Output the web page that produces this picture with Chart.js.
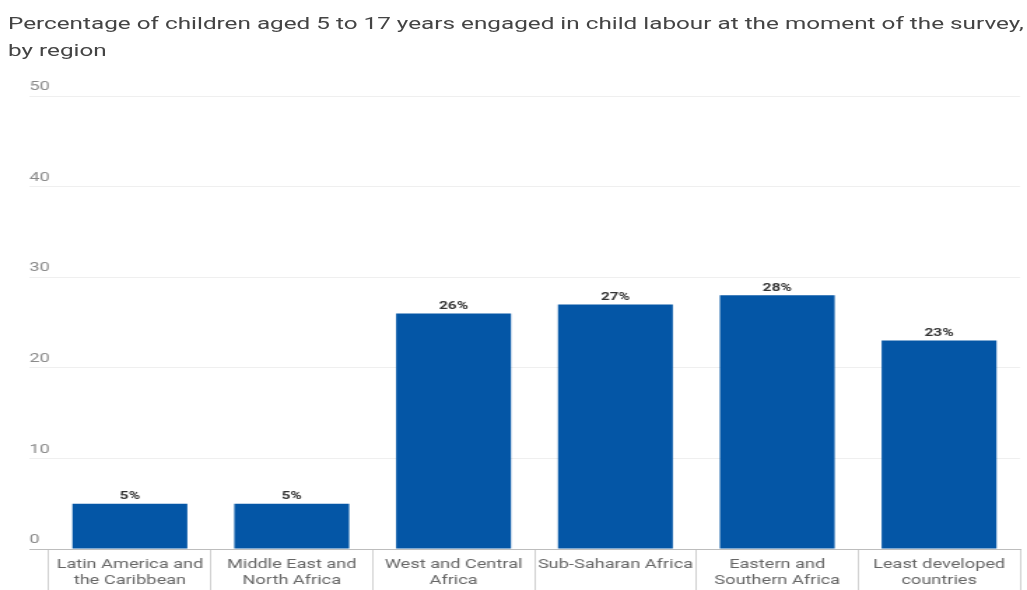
<!DOCTYPE html>
<html>
<head>
<meta charset="utf-8">
<script src="https://cdn.jsdelivr.net/npm/chart.js@4/dist/chart.umd.min.js"></script>
<style>
	html, body { margin: 0; padding: 0; background: #fff; overflow: hidden; }
	.wrap { position: relative; width: 1027px; height: 590px; overflow: hidden; }
	.title {
		position: absolute; left: 8px; top: 10px;
		font: 17px Roboto, sans-serif; line-height: 27px; color: #444;
		white-space: nowrap;
		transform: scaleX(1.428); transform-origin: 0 0;
	}
	/* the source picture is stretched sideways, so the chart is too */
	.stretch {
		position: absolute; left: 0; top: 0; width: 734px; height: 590px;
		transform: scaleX(1.3992); transform-origin: 0 0;
	}
</style>
</head>
<body>
<div class="wrap">
	<div class="stretch"><canvas id="chart" width="734" height="590"></canvas></div>
	<div class="title">Percentage of children aged 5 to 17 years engaged in child labour at the moment of the survey,<br>by region</div>
</div>
<script>
	const regions = [
		['Latin America and', 'the Caribbean'],
		['Middle East and', 'North Africa'],
		['West and Central', 'Africa'],
		'Sub-Saharan Africa',
		['Eastern and', 'Southern Africa'],
		['Least developed', 'countries']
	];
	const shares = [5, 5, 26, 27, 28, 23];
	const yTicks = [0, 10, 20, 30, 40, 50];

	const barColor = '#0456a6';

	// percent labels above each bar
	const valueLabels = {
		id: 'valueLabels',
		afterDatasetsDraw(chart) {
			const ctx = chart.ctx;
			const meta = chart.getDatasetMeta(0);
			ctx.save();
			ctx.font = 'bold 11px Roboto, sans-serif';
			ctx.fillStyle = '#333';
			ctx.textAlign = 'center';
			ctx.textBaseline = 'bottom';
			meta.data.forEach(function (bar, i) {
				ctx.fillText(shares[i] + '%', bar.x, bar.y - 2);
			});
			ctx.restore();
		}
	};

	new Chart(document.getElementById('chart'), {
		type: 'bar',
		data: {
			labels: regions,
			datasets: [{
				data: shares,
				backgroundColor: barColor,
				barPercentage: 0.71,
				categoryPercentage: 1
			}]
		},
		options: {
			responsive: false,
			animation: false,
			devicePixelRatio: 1,
			layout: { padding: { top: 96, left: 21, right: 5, bottom: 0 } },
			plugins: {
				legend: { display: false },
				tooltip: { enabled: false }
			},
			scales: {
				x: {
					grid: {
						offset: true,
						drawOnChartArea: false,
						drawTicks: true,
						tickLength: 42,
						color: '#d0d0d0'
					},
					border: { display: true, color: '#bdbdbd' },
					ticks: {
						padding: -34,
						maxRotation: 0,
						autoSkip: false,
						color: '#666',
						font: { family: 'Roboto, sans-serif', size: 13, lineHeight: 1.2 }
					},
					afterFit(scale) { scale.height = 41; }
				},
				y: {
					min: 0,
					max: 50,
					afterBuildTicks(scale) {
						scale.ticks = yTicks.map(function (v) { return { value: v }; });
					},
					grid: {
						tickLength: 14,
						color(c) { return c.tick && c.tick.value === 0 ? '#bdbdbd' : '#efefef'; }
					},
					border: { display: false },
					ticks: {
						crossAlign: 'far',
						labelOffset: -9,
						color: '#8a8a8a',
						font: { family: 'Roboto, sans-serif', size: 13 }
					},
					afterFit(scale) { scale.width = 14; }
				}
			}
		},
		plugins: [valueLabels]
	});
</script>
</body>
</html>
